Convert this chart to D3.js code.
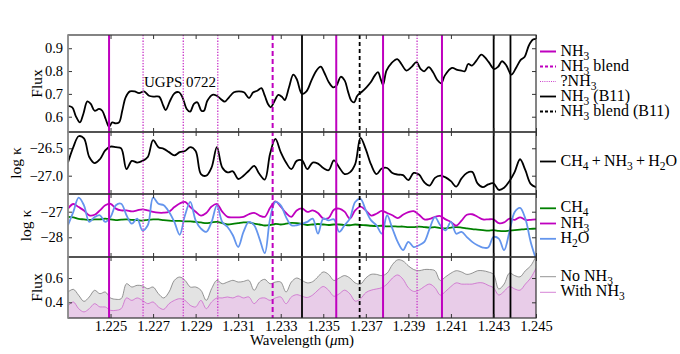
<!DOCTYPE html>
<html>
<head>
<meta charset="utf-8">
<script src="https://cdn.jsdelivr.net/npm/d3@7"></script>
<style>
  body { margin: 0; background: #fff; }
  svg { font-family: "Liberation Serif", "Times New Roman", serif; }
</style>
</head>
<body>
<div id="chart"></div>
<script>
// ---- data ----
// flux of UGPS 0722 (top panel)
var fluxWave = [1.22297,1.22320,1.22336,1.22356,1.22372,1.22391,1.22407,1.22425,1.22446,1.22461,
  1.22477,1.22493,1.22508,1.22524,1.22540,1.22555,1.22571,1.22591,1.22613,1.22634,
  1.22657,1.22681,1.22704,1.22728,1.22748,1.22759,1.22780,1.22801,1.22822,1.22838,
  1.22858,1.22874,1.22892,1.22908,1.22927,1.22939,1.22955,1.22979,1.22999,1.23018,
  1.23037,1.23057,1.23080,1.23104,1.23127,1.23151,1.23171,1.23190,1.23209,1.23225,
  1.23240,1.23253,1.23268,1.23289,1.23308,1.23319,1.23339,1.23359,1.23375,1.23400,
  1.23421,1.23444,1.23468,1.23488,1.23504,1.23526,1.23546,1.23562,1.23582,1.23601,
  1.23616,1.23632,1.23645,1.23660,1.23679,1.23703,1.23723,1.23742,1.23757,1.23770,
  1.23781,1.23797,1.23820,1.23848,1.23867,1.23891,1.23914,1.23938,1.23958,1.23974,
  1.23996,1.24016,1.24036,1.24055,1.24071,1.24105,1.24130,1.24149,1.24165,1.24181,
  1.24199,1.24220,1.24243,1.24259,1.24278,1.24303,1.24322,1.24340,1.24361,1.24384,
  1.24408,1.24428,1.24447,1.24466,1.24486,1.24502];
var fluxVal = [0.648,0.641,0.604,0.575,0.612,0.667,0.656,0.626,0.634,0.626,
  0.590,0.556,0.575,0.571,0.575,0.626,0.685,0.711,0.711,0.703,
  0.711,0.692,0.688,0.688,0.648,0.629,0.670,0.703,0.707,0.685,
  0.634,0.622,0.656,0.663,0.626,0.626,0.670,0.696,0.692,0.678,
  0.666,0.685,0.707,0.711,0.707,0.682,0.707,0.714,0.725,0.692,
  0.656,0.641,0.663,0.696,0.685,0.673,0.729,0.784,0.765,0.700,
  0.711,0.758,0.802,0.819,0.795,0.751,0.729,0.736,0.775,0.758,
  0.711,0.670,0.663,0.692,0.707,0.729,0.751,0.780,0.795,0.765,
  0.740,0.802,0.834,0.852,0.831,0.802,0.817,0.839,0.809,0.799,
  0.817,0.795,0.761,0.746,0.780,0.814,0.805,0.802,0.799,0.831,
  0.824,0.846,0.872,0.861,0.839,0.809,0.819,0.843,0.824,0.784,
  0.817,0.849,0.863,0.911,0.938,0.941];

// common wavelength grid of the opacity and model panels
var wave = [1.22300,1.22325,1.22350,1.22375,1.22400,1.22425,1.22450,1.22475,1.22500,1.22525,
  1.22550,1.22575,1.22600,1.22625,1.22650,1.22675,1.22700,1.22725,1.22750,1.22775,
  1.22800,1.22825,1.22850,1.22875,1.22900,1.22925,1.22950,1.22975,1.23000,1.23025,
  1.23050,1.23075,1.23100,1.23125,1.23150,1.23175,1.23200,1.23225,1.23250,1.23275,
  1.23300,1.23325,1.23350,1.23375,1.23400,1.23425,1.23450,1.23475,1.23500,1.23525,
  1.23550,1.23575,1.23600,1.23625,1.23650,1.23675,1.23700,1.23725,1.23750,1.23775,
  1.23800,1.23825,1.23850,1.23875,1.23900,1.23925,1.23950,1.23975,1.24000,1.24025,
  1.24050,1.24075,1.24100,1.24125,1.24150,1.24175,1.24200,1.24225,1.24250,1.24275,
  1.24300,1.24325,1.24350,1.24375,1.24400,1.24425,1.24450,1.24475,1.24500];

var kapTotal = [-26.76,-26.48,-26.28,-26.32,-26.66,-26.77,-26.70,-26.54,-26.47,-26.48,
  -26.50,-26.88,-26.73,-26.76,-26.73,-26.66,-26.35,-26.48,-26.51,-26.57,
  -26.63,-26.57,-26.55,-26.48,-26.55,-26.97,-27.00,-26.85,-26.48,-26.85,
  -26.94,-26.92,-27.06,-27.00,-26.91,-26.82,-26.97,-27.07,-26.60,-26.33,
  -26.57,-26.76,-26.88,-26.73,
  -26.72,-26.88,-26.76,-26.78,-26.86,-26.90,-26.72,-26.85,-26.97,-26.94,
  -26.79,-26.31,-26.52,-26.80,-26.97,-26.87,-26.86,-26.95,-26.98,-26.99,
  -27.08,-26.95,-26.98,-27.12,-27.18,-27.04,-27.00,-27.03,-27.10,-27.20,
  -27.05,-26.95,-26.93,-27.14,-27.21,-27.16,-27.14,-27.26,-27.22,-27.10,
  -26.93,-26.70,-26.90,-27.15,-27.21];

var kapNH3 = [-26.88,-26.70,-26.82,-26.95,-27.14,-27.12,-26.95,-26.75,-26.69,-26.88,
  -26.95,-26.95,-26.99,-26.95,-26.91,-26.95,-27.01,-27.04,-27.04,-27.00,
  -26.82,-26.68,-26.62,-26.82,-27.00,-27.15,-27.05,-26.80,-26.70,-27.00,
  -27.20,-27.22,-27.22,-27.20,-27.10,-27.05,-27.15,-27.20,-26.85,-26.60,
  -26.80,-27.05,-27.20,-26.95,
  -26.87,-27.01,-26.95,-27.05,-27.27,-27.25,-26.92,-26.88,-27.00,-27.27,
  -26.95,-26.80,-26.95,-27.15,-27.08,-26.97,-27.05,-27.14,-27.25,-27.12,
  -27.02,-26.98,-27.12,-27.30,-27.28,-27.20,-27.17,-27.30,-27.40,-27.55,
  -27.35,-27.12,-27.10,-27.20,-27.30,-27.30,-27.30,-27.45,-27.42,-27.27,
  -27.32,-27.22,-27.32,-27.32,-27.30];

var kapCH4 = [-27.20,-27.22,-27.28,-27.30,-27.32,-27.30,-27.30,-27.27,-27.30,-27.33,
  -27.31,-27.30,-27.32,-27.33,-27.35,-27.32,-27.30,-27.30,-27.33,-27.35,
  -27.36,-27.36,-27.38,-27.38,-27.40,-27.42,-27.45,-27.42,-27.40,-27.45,
  -27.50,-27.48,-27.45,-27.42,-27.42,-27.47,-27.50,-27.54,-27.52,-27.48,
  -27.50,-27.47,-27.44,-27.45,
  -27.48,-27.52,-27.50,-27.48,-27.50,-27.52,-27.50,-27.50,-27.52,-27.53,
  -27.50,-27.52,-27.53,-27.55,-27.56,-27.55,-27.57,-27.57,-27.58,-27.58,
  -27.60,-27.60,-27.58,-27.60,-27.62,-27.60,-27.64,-27.65,-27.62,-27.60,
  -27.62,-27.65,-27.68,-27.70,-27.72,-27.74,-27.72,-27.75,-27.76,-27.74,
  -27.72,-27.70,-27.68,-27.67,-27.66];

var kapH2O = [-27.53,-27.01,-26.45,-26.75,-27.40,-27.21,-27.14,-27.40,-27.21,-26.75,
  -26.69,-27.14,-27.47,-27.27,-27.73,-27.53,-26.45,-26.69,-26.75,-27.01,
  -27.40,-27.90,-27.14,-26.62,-27.34,-27.66,-27.79,-27.40,-26.75,-27.40,
  -27.60,-27.92,-28.38,-27.79,-27.40,-27.53,-28.05,-28.62,-27.27,-26.62,
  -26.75,-27.21,-27.53,-27.53,
  -27.47,-27.40,-27.27,-27.86,-27.27,-27.34,-27.30,-27.79,-27.53,-27.27,
  -26.62,-26.50,-26.95,-27.34,-27.53,-27.86,-27.14,-27.66,-28.18,-28.50,
  -28.18,-28.38,-28.31,-28.18,-27.66,-27.21,-27.53,-27.73,-27.40,-27.86,
  -27.79,-27.99,-28.18,-28.31,-28.40,-28.40,-27.99,-28.05,-28.50,-27.79,
  -27.01,-26.85,-27.27,-28.18,-28.85];

var modelNoNH3 = [0.485,0.507,0.458,0.408,0.444,0.499,0.471,0.485,0.436,0.425,
  0.430,0.553,0.526,0.540,0.535,0.512,0.526,0.471,0.436,0.485,
  0.581,0.608,0.581,0.526,0.526,0.499,0.416,0.512,0.581,0.553,
  0.567,0.581,0.567,0.572,0.581,0.499,0.567,0.589,0.553,0.567,
  0.567,0.485,0.567,0.600,
  0.580,0.560,0.570,0.610,0.650,0.630,0.580,0.600,0.620,0.600,
  0.560,0.550,0.600,0.630,0.630,0.620,0.640,0.710,0.750,0.740,
  0.700,0.670,0.660,0.670,0.670,0.660,0.580,0.610,0.640,0.660,
  0.650,0.630,0.640,0.660,0.660,0.650,0.630,0.510,0.550,0.640,
  0.620,0.610,0.660,0.700,0.780];

var modelNH3 = [0.370,0.403,0.348,0.321,0.348,0.389,0.362,0.362,0.334,0.334,
  0.348,0.436,0.416,0.436,0.416,0.389,0.403,0.362,0.342,0.389,
  0.416,0.430,0.416,0.375,0.362,0.416,0.348,0.403,0.436,0.436,
  0.444,0.436,0.452,0.436,0.444,0.389,0.430,0.436,0.416,0.436,
  0.444,0.389,0.444,0.463,
  0.450,0.440,0.460,0.500,0.530,0.500,0.450,0.470,0.500,0.470,
  0.410,0.430,0.480,0.500,0.510,0.520,0.550,0.600,0.625,0.590,
  0.520,0.490,0.500,0.530,0.550,0.520,0.460,0.490,0.530,0.560,
  0.550,0.550,0.550,0.560,0.560,0.540,0.520,0.460,0.490,0.530,
  0.510,0.500,0.550,0.600,0.680];

// line identifications
var nh3Lines = [1.22493, 1.23561, 1.23781, 1.24058];
var nh3Blend = [1.23262];
var nh3Maybe = [1.22653, 1.22842, 1.23004, 1.23941];
var b11Lines = [1.23400, 1.24301, 1.24380];
var b11Blend = [1.23671];

var xTicks = [1.225, 1.227, 1.229, 1.231, 1.233, 1.235, 1.237, 1.239, 1.241, 1.243, 1.245];

// ---- layout ----
var W = 680, H = 354;
var left = 68, right = 536;
var MAG = "#bf00bf";
var DOT = "#cc40cc";

var svg = d3.select("#chart").append("svg")
  .attr("width", W).attr("height", H);

var x = d3.scaleLinear().domain([1.223, 1.245]).range([left, right]);

var panels = [
  { top: 35,  bottom: 132, domain: [0.533, 0.958],   ticks: [0.6, 0.7, 0.8, 0.9], fmt: d3.format(".1f"), label: "Flux", lx: 41.5 },
  { top: 132, bottom: 194, domain: [-27.334, -26.203], ticks: [-27.0, -26.5], fmt: function(d) { return d3.format(".1f")(d).replace("-", "\u2212"); }, label: "log \u03ba", lx: 20.5 },
  { top: 194, bottom: 257, domain: [-28.77, -26.309],  ticks: [-28, -27], fmt: function(d) { return String(d).replace("-", "\u2212"); }, label: "log \u03ba", lx: 30.5 },
  { top: 257, bottom: 318, domain: [0.271, 0.773],   ticks: [0.4, 0.6], fmt: d3.format(".1f"), label: "Flux", lx: 41.5 }
];
panels.forEach(function(p, i) {
  p.y = d3.scaleLinear().domain(p.domain).range([p.bottom, p.top]);
  svg.append("clipPath").attr("id", "clip" + i)
    .append("rect").attr("x", left).attr("y", p.top)
    .attr("width", right - left).attr("height", p.bottom - p.top);
});

function lineGen(p, xs) {
  return d3.line()
    .x(function(d, i) { return x(xs[i]); })
    .y(function(d) { return p.y(d); })
    .curve(d3.curveCatmullRom.alpha(0.5));
}
function areaGen(p, xs) {
  return d3.area()
    .x(function(d, i) { return x(xs[i]); })
    .y0(p.bottom)
    .y1(function(d) { return p.y(d); })
    .curve(d3.curveCatmullRom.alpha(0.5));
}

// panel 4: model fills
var p4 = panels[3];
var g4 = svg.append("g").attr("clip-path", "url(#clip3)");
g4.append("path").attr("d", areaGen(p4, wave)(modelNoNH3)).attr("fill", "#e3e3e3");
g4.append("path").attr("d", lineGen(p4, wave)(modelNoNH3)).attr("fill", "none").attr("stroke", "#7a7a7a").attr("stroke-width", 0.8);
g4.append("path").attr("d", areaGen(p4, wave)(modelNH3)).attr("fill", "#e8cce8");
g4.append("path").attr("d", lineGen(p4, wave)(modelNH3)).attr("fill", "none").attr("stroke", "#cc66cc").attr("stroke-width", 0.8);

// panel 3: species opacities
var p3 = panels[2];
var g3 = svg.append("g").attr("clip-path", "url(#clip2)");
[[kapCH4, "#008000"], [kapNH3, MAG], [kapH2O, "#6495ed"]].forEach(function(s) {
  g3.append("path").attr("d", lineGen(p3, wave)(s[0]))
    .attr("fill", "none").attr("stroke", s[1]).attr("stroke-width", 1.8);
});

// panel 2: total opacity
var g2 = svg.append("g").attr("clip-path", "url(#clip1)");
g2.append("path").attr("d", lineGen(panels[1], wave)(kapTotal))
  .attr("fill", "none").attr("stroke", "#000").attr("stroke-width", 1.8);

// panel 1: observed flux
var g1 = svg.append("g").attr("clip-path", "url(#clip0)");
g1.append("path").attr("d", lineGen(panels[0], fluxWave)(fluxVal))
  .attr("fill", "none").attr("stroke", "#000").attr("stroke-width", 1.8);

// vertical line identifications through all panels
var yTop = panels[0].top, yBot = panels[3].bottom;
function vlines(data, color, width, dash) {
  svg.append("g").selectAll("line").data(data).enter().append("line")
    .attr("x1", function(d) { return x(d); }).attr("x2", function(d) { return x(d); })
    .attr("y1", yTop).attr("y2", yBot)
    .attr("stroke", color).attr("stroke-width", width)
    .attr("stroke-dasharray", dash);
}
vlines(nh3Maybe, DOT, 1.4, "1.3,1.5");
vlines(nh3Lines, MAG, 2, null);
vlines(nh3Blend, MAG, 2, "5,3");
vlines(b11Lines, "#000", 1.8, null);
vlines(b11Blend, "#000", 1.8, "4,3");

// axes and frames
panels.forEach(function(p, i) {
  var last = i === panels.length - 1;
  svg.append("g").attr("transform", "translate(0," + p.top + ")")
    .call(d3.axisTop(x).tickValues(xTicks).tickSize(-4).tickFormat(""));
  svg.append("g").attr("transform", "translate(0," + p.bottom + ")")
    .call(d3.axisBottom(x).tickValues(xTicks).tickSize(-4).tickPadding(3)
      .tickFormat(last ? d3.format(".3f") : ""));
  svg.append("g").attr("transform", "translate(" + left + ",0)")
    .call(d3.axisLeft(p.y).tickValues(p.ticks).tickSize(-4).tickPadding(5).tickFormat(p.fmt));
  svg.append("g").attr("transform", "translate(" + right + ",0)")
    .call(d3.axisRight(p.y).tickValues(p.ticks).tickSize(-4).tickFormat(""));

  svg.append("rect").attr("x", left).attr("y", p.top)
    .attr("width", right - left).attr("height", p.bottom - p.top)
    .attr("fill", "none").attr("stroke", "#333").attr("stroke-width", 1.2);

  svg.append("text")
    .attr("transform", "translate(" + p.lx + "," + ((p.top + p.bottom) / 2) + ") rotate(-90)")
    .attr("text-anchor", "middle").attr("font-size", 15.5).text(p.label);
});
svg.selectAll(".domain").remove();
svg.selectAll(".tick line").attr("stroke", "#333");
svg.selectAll(".tick text").attr("font-family", "Liberation Serif").attr("font-size", 14.5).attr("fill", "#000");
// empty tick labels carry no text
svg.selectAll(".tick text").filter(function() { return this.textContent === ""; }).remove();
svg.append("line").attr("x1", left).attr("x2", left).attr("y1", yTop).attr("y2", yBot)
  .attr("stroke", "#999").attr("stroke-width", 1.5);

// x label
var xl = svg.append("text").attr("x", (left + right) / 2).attr("y", 345)
  .attr("text-anchor", "middle").attr("font-size", 15);
xl.append("tspan").text("Wavelength (");
xl.append("tspan").attr("font-style", "italic").text("\u03bc");
xl.append("tspan").text("m)");

// object name
svg.append("text").attr("x", 144).attr("y", 87).attr("font-size", 15).text("UGPS 0722");

// ---- legends ----
var SUB = 4;
function chem(sel, parts) {
  // parts: array of [text, isSubscript]
  var down = false;
  parts.forEach(function(p) {
    var t = sel.append("tspan").text(p[0]);
    if (p[1]) {
      t.attr("font-size", 11.5).attr("dy", SUB);
      down = true;
    } else if (down) {
      t.attr("dy", -SUB);
      down = false;
    }
  });
}
var NH3 = [["NH", false], ["3", true]];
var PLUS = "\u2009+\u2009";
var legends = [
  { y: 51.5,  color: MAG, dash: null, w: 2, parts: NH3 },
  { y: 66.5,  color: MAG, dash: "3,2", w: 1.8, parts: NH3.concat([[" blend", false]]) },
  { y: 81.5,  color: DOT, dash: "1,1.2", w: 1.2, parts: [["?NH", false], ["3", true]] },
  { y: 96.5,  color: "#000", dash: null, w: 1.8, parts: NH3.concat([[" (B11)", false]]) },
  { y: 111.5, color: "#000", dash: "3,2", w: 1.8, parts: NH3.concat([[" blend (B11)", false]]) },
  { y: 161.5, color: "#000", dash: null, w: 1.8, parts: [["CH", false], ["4", true], [PLUS + "NH", false], ["3", true], [PLUS + "H", false], ["2", true], ["O", false]] },
  { y: 208.3, color: "#008000", dash: null, w: 1.8, parts: [["CH", false], ["4", true]] },
  { y: 223.5, color: MAG, dash: null, w: 1.8, parts: NH3 },
  { y: 238.8, color: "#6495ed", dash: null, w: 1.8, parts: [["H", false], ["2", true], ["O", false]] },
  { y: 276.7, color: "#7a7a7a", dash: null, w: 0.8, parts: [["No NH", false], ["3", true]] },
  { y: 292.3, color: "#cc66cc", dash: null, w: 0.8, parts: [["With NH", false], ["3", true]] }
];
legends.forEach(function(l) {
  svg.append("line").attr("x1", 540).attr("x2", 556).attr("y1", l.y).attr("y2", l.y)
    .attr("stroke", l.color).attr("stroke-width", l.w).attr("stroke-dasharray", l.dash);
  var t = svg.append("text").attr("x", 560.5).attr("y", l.y + 4).attr("font-size", 16);
  chem(t, l.parts);
});
</script>
</body>
</html>
